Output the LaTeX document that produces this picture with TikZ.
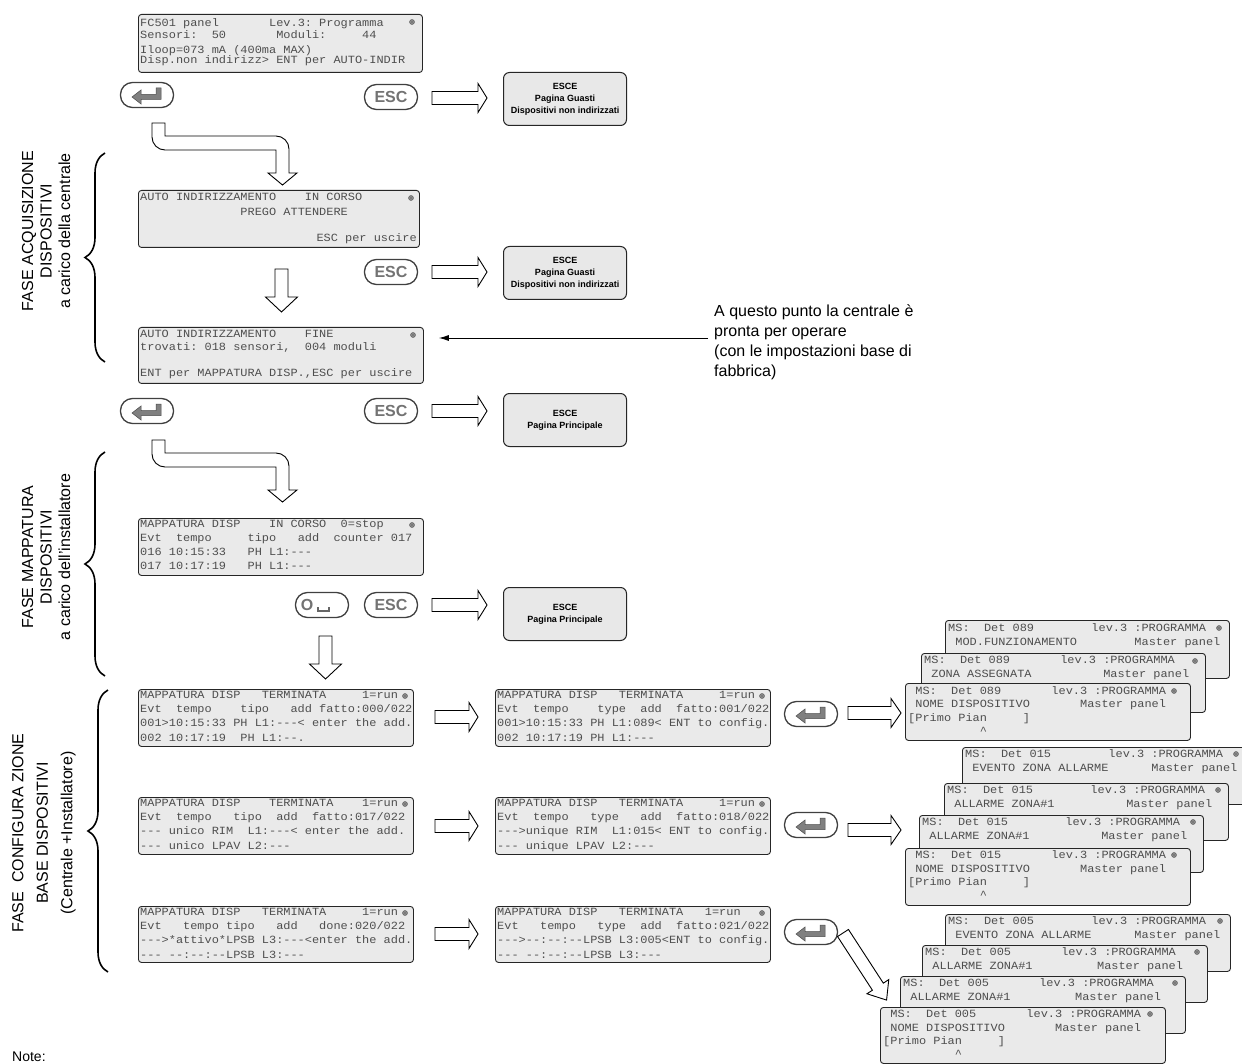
\documentclass[tikz,border=0pt]{standalone}
\usepackage{fontspec}
\setmainfont{Liberation Sans}
\setmonofont{Liberation Mono}[FakeStretch=1.085]
\usetikzlibrary{decorations.pathreplacing,arrows.meta,calc}
\definecolor{scrfill}{HTML}{EAEAEA}
\definecolor{lcdtext}{HTML}{4E4E4E}
\newcommand\lcdf{\ttfamily\fontsize{11}{12}\selectfont}
\newcommand\escef{\bfseries\fontsize{9}{12}\selectfont}
\newcommand\escbtnf{\bfseries\fontsize{16}{16}\selectfont}
\newcommand\scr[5]{\node[scr, minimum width={#4-#2}, minimum height={#5-#3}] (#1) at (#2,#3) {};}
\newcommand\ico[2]{\draw[icon] (#1,#2) circle (2.4) (#1-2.4,#2) -- (#1+2.4,#2) (#1,#2-2.4) -- (#1,#2+2.4);}
\newcommand\barrow[6]{\begin{scope}[shift={(#1,#2)},rotate=#3]
  \draw[barrowst] (0,-6.5) -- ({#4-#5},-6.5) -- ({#4-#5},-#6) -- (#4,0) -- ({#4-#5},#6) -- ({#4-#5},6.5) -- (0,6.5) -- cycle;
  \end{scope}}
\newcommand\curvarrow[1]{\draw[barrowst] (165,#1) -- (152,#1) -- (152,#1+14) .. controls (152,#1+21.2) and (157.8,#1+27) .. (165,#1+27) -- (276,#1+27) -- (276,#1+50) -- (268,#1+50) -- (282.5,#1+62) -- (297,#1+50) -- (289,#1+50) -- (289,#1+26) .. controls (289,#1+18.8) and (283.2,#1+13) .. (276,#1+13) -- (165,#1+13) -- cycle;}
\newcommand\enterglyph[2]{\begin{scope}[shift={(#1,#2)}]
  \filldraw[fill=black!50, draw=black!70, line width=0.5pt] (-15,2) -- (-6,-5) -- (-6,-0.5) -- (9,-0.5) -- (9,-7) -- (14,-7) -- (14,4.5) -- (-6,4.5) -- (-6,9) -- cycle;
  \end{scope}}
\tikzset{
  scr/.style={draw=black!85, fill=scrfill, rounded corners=3pt, line width=0.9pt, inner sep=0pt, anchor=north west},
  lcd/.style={font=\lcdf, text=lcdtext, inner sep=0pt, anchor=base west},
  icon/.style={draw=black!75, line width=0.6pt},
  esce/.style={draw=black!85, fill=black!9, rounded corners=6pt, line width=1pt, minimum width=123pt, minimum height=53pt, align=center, font=\escef, anchor=north west, inner sep=0pt},
  btn/.style={draw=black!75, fill=white, rounded corners=12pt, line width=1.3pt, minimum width=53pt, minimum height=25pt, inner sep=0pt},
  escbtn/.style={btn, font=\escbtnf, text=black!55},
  barrowst/.style={draw=black, fill=white, line width=0.9pt, line join=miter},
  bracest/.style={decorate, decoration={brace, amplitude=20pt}, line width=1.6pt},
  vtext/.style={rotate=90, align=center, inner sep=0pt},
}
\begin{document}
\begin{tikzpicture}[x=1pt,y=-1pt]
\useasboundingbox (0,0) rectangle (1242,1064);
\fill[white] (0,0) rectangle (1242,1064);

% ---------- left braces and phase labels ----------
\draw[bracest] (105,362) -- (105,153);
\draw[bracest] (105,676) -- (105,452);
\draw[bracest] (108,972) -- (108,690);
\node[vtext, font=\fontsize{16}{18.5}\selectfont] (g1) at (46,231) {FASE ACQUISIZIONE\\DISPOSITIVI\\a carico della centrale};
\node[vtext, font=\fontsize{16}{18.5}\selectfont] (g2) at (46,557) {FASE MAPPATURA\\DISPOSITIVI\\a carico dell'installatore};
\node[vtext, font=\fontsize{16}{24.5}\selectfont] (g3) at (44,833) {FASE\ \ CONFIGURA ZIONE\\BASE DISPOSITIVI\\(Centrale +Installatore)};
\node[anchor=base west, inner sep=0pt, font=\fontsize{14}{16}\selectfont] (note) at (12,1061) {Note:};

% ---------- screen A ----------
\scr{sA}{138}{14}{422}{72}
\node[lcd] (a1) at (140,26.5) {FC501~panel~~~~~~~Lev.3:~Programma};
\node[lcd] (a2) at (140,39) {Sensori:~~50~~~~~~~Moduli:~~~~~44};
\node[lcd] (a3) at (140,53.5) {Iloop=073~mA~(400ma~MAX)};
\node[lcd] (a4) at (140,64) {Disp.non~indirizz>~ENT~per~AUTO-INDIR};
\ico{412}{22}
\node[btn] (entA) at (147,95) {}; \enterglyph{147}{95}
\node[escbtn] (escA) at (391,97) {ESC};
\barrow{432}{98}{0}{55}{9}{14.5}
\node[esce] (xA) at (503,72) {ESCE\\Pagina Guasti\\Dispositivi non indirizzati};
\curvarrow{123}

% ---------- screen B ----------
\scr{sB}{138}{190}{419}{247}
\node[lcd] (b1) at (140,201) {AUTO~INDIRIZZAMENTO~~~~IN~CORSO};
\node[lcd] (b2) at (140,215.5) {~~~~~~~~~~~~~~PREGO~ATTENDERE};
\node[lcd, anchor=base east] (b4) at (417,242) {ESC~per~uscire};
\ico{411}{198}
\node[escbtn] (escB) at (391,272) {ESC};
\barrow{432}{272}{0}{55}{9}{14.5}
\node[esce] (xB) at (503,246) {ESCE\\Pagina Guasti\\Dispositivi non indirizzati};
\barrow{281.5}{269}{-90}{43}{15}{16}

% ---------- screen C ----------
\scr{sC}{138}{327}{423}{383}
\node[lcd] (c1) at (140,337.5) {AUTO~INDIRIZZAMENTO~~~~FINE};
\node[lcd] (c2) at (140,350.5) {trovati:~018~sensori,~~004~moduli};
\node[lcd] (c4) at (140,377) {ENT~per~MAPPATURA~DISP.,ESC~per~uscire};
\ico{413}{335}
\node[anchor=north west, align=left, inner sep=0pt, font=\fontsize{16}{20}\selectfont] (ann) at (714,305) {A questo punto la centrale è\\pronta per operare\\(con le impostazioni base di\\fabbrica)};
\draw[-{Latex[length=10pt,width=6pt]}, line width=0.8pt, shorten <=6pt, shorten >=15pt] (ann.west |- 0,338) -- (sC.east |- 0,338);
\node[btn] (entC) at (147,411) {}; \enterglyph{147}{411}
\node[escbtn] (escC) at (391,411) {ESC};
\barrow{432}{411}{0}{55}{9}{14.5}
\node[esce] (xC) at (503,393) {ESCE\\Pagina Principale};
\curvarrow{440}

% ---------- screen D ----------
\scr{sD}{138}{518}{423}{575}
\node[lcd] (d1) at (140,527.5) {MAPPATURA~DISP~~~~IN~CORSO~~0=stop};
\node[lcd] (d2) at (140,541.5) {Evt~~tempo~~~~~tipo~~~add~~counter~017};
\node[lcd] (d3) at (140,555.5) {016~10:15:33~~~PH~L1:---};
\node[lcd] (d4) at (140,569.5) {017~10:17:19~~~PH~L1:---};
\ico{412}{525}
\node[btn] (oD) at (322,605) {};
\node[inner sep=0pt, font=\escbtnf, text=black!55] (oDt) at (307,605) {O};
\draw[black!60, line width=1.3pt] (318,607) -- (318,611) -- (329,611) -- (329,607);
\node[escbtn] (escD) at (391,605) {ESC};
\barrow{432}{605}{0}{55}{9}{14.5}
\node[esce] (xD) at (503,587) {ESCE\\Pagina Principale};
\barrow{325.5}{636}{-90}{43}{15}{16}

% ---------- row 1 ----------
\scr{e1}{138}{689}{413}{746}
\node[lcd] (e11) at (140,698) {MAPPATURA~DISP~~~TERMINATA~~~~~1=run};
\node[lcd] (e12) at (140,712.3) {Evt~~tempo~~~~tipo~~~add~fatto:000/022};
\node[lcd] (e13) at (140,726.6) {001>10:15:33~PH~L1:---<~enter~the~add.};
\node[lcd] (e14) at (140,741) {002~10:17:19~~PH~L1:--.};
\ico{405}{696}
\barrow{435}{717}{0}{43}{9}{14.5}
\scr{f1}{495}{689}{770}{746}
\node[lcd] (f11) at (497,698) {MAPPATURA~DISP~~~TERMINATA~~~~~1=run};
\node[lcd] (f12) at (497,712.3) {Evt~~tempo~~~~type~~add~~fatto:001/022};
\node[lcd] (f13) at (497,726.6) {001>10:15:33~PH~L1:089<~ENT~to~config.};
\node[lcd] (f14) at (497,741) {002~10:17:19~PH~L1:---};
\ico{762}{696}
\node[btn] (entF1) at (811,714) {}; \enterglyph{811}{714}
\barrow{848}{713}{0}{53}{10}{14.5}

% stack 1
\scr{s1a}{945}{620}{1229}{678}
\node[lcd] (s1a1) at (948,631) {MS:~~Det~089~~~~~~~~lev.3~:PROGRAMMA};
\node[lcd] (s1a2) at (948,645) {~MOD.FUNZIONAMENTO~~~~~~~~Master~panel};
\ico{1219}{628}
\scr{s1b}{921}{653}{1205}{712}
\node[lcd] (s1b1) at (924,663.5) {MS:~~Det~089~~~~~~~lev.3~:PROGRAMMA};
\node[lcd] (s1b2) at (924,677.5) {~ZONA~ASSEGNATA~~~~~~~~~~Master~panel};
\ico{1195}{661}
\scr{s1c}{905}{683}{1190}{740}
\node[lcd] (s1c1) at (908,694) {~MS:~~Det~089~~~~~~~lev.3~:PROGRAMMA};
\node[lcd] (s1c2) at (908,707.5) {~NOME~DISPOSITIVO~~~~~~~Master~panel};
\node[lcd] (s1c3) at (908,721) {[Primo~Pian~~~~~]};
\node[lcd] (s1c4) at (908,734) {~~~~~~~~~~\textasciicircum};
\ico{1174}{691}

% ---------- row 2 ----------
\scr{e2}{138}{797}{413}{854}
\node[lcd] (e21) at (140,806) {MAPPATURA~DISP~~~~TERMINATA~~~~1=run};
\node[lcd] (e22) at (140,820.3) {Evt~~tempo~~~tipo~~add~~fatto:017/022};
\node[lcd] (e23) at (140,834.6) {---~unico~RIM~~L1:---<~enter~the~add.};
\node[lcd] (e24) at (140,849) {---~unico~LPAV~L2:---};
\ico{405}{804}
\barrow{435}{826}{0}{43}{9}{14.5}
\scr{f2}{495}{797}{770}{854}
\node[lcd] (f21) at (497,806) {MAPPATURA~DISP~~~TERMINATA~~~~~1=run};
\node[lcd] (f22) at (497,820.3) {Evt~~tempo~~~type~~~add~~fatto:018/022};
\node[lcd] (f23) at (497,834.6) {--->unique~RIM~~L1:015<~ENT~to~config.};
\node[lcd] (f24) at (497,849) {---~unique~LPAV~L2:---};
\ico{762}{804}
\node[btn] (entF2) at (811,825) {}; \enterglyph{811}{825}
\barrow{848}{830}{0}{53}{10}{14.5}

% stack 2
\scr{s2a}{962}{747}{1247}{804}
\node[lcd] (s2a1) at (965,757.5) {MS:~~Det~015~~~~~~~~lev.3~:PROGRAMMA};
\node[lcd] (s2a2) at (965,771.5) {~EVENTO~ZONA~ALLARME~~~~~~Master~panel};
\ico{1236}{754}
\scr{s2b}{944}{783}{1228}{840}
\node[lcd] (s2b1) at (947,793.5) {MS:~~Det~015~~~~~~~~lev.3~:PROGRAMMA};
\node[lcd] (s2b2) at (947,807.5) {~ALLARME~ZONA\#1~~~~~~~~~~Master~panel};
\ico{1218}{790}
\scr{s2c}{919}{815}{1203}{872}
\node[lcd] (s2c1) at (922,825.5) {MS:~~Det~015~~~~~~~~lev.3~:PROGRAMMA};
\node[lcd] (s2c2) at (922,839.5) {~ALLARME~ZONA\#1~~~~~~~~~~Master~panel};
\ico{1193}{822}
\scr{s2d}{905}{848}{1190}{905}
\node[lcd] (s2d1) at (908,858.5) {~MS:~~Det~015~~~~~~~lev.3~:PROGRAMMA};
\node[lcd] (s2d2) at (908,872) {~NOME~DISPOSITIVO~~~~~~~Master~panel};
\node[lcd] (s2d3) at (908,885.5) {[Primo~Pian~~~~~]};
\node[lcd] (s2d4) at (908,898.5) {~~~~~~~~~~\textasciicircum};
\ico{1174}{855}

% ---------- row 3 ----------
\scr{e3}{138}{906}{413}{962}
\node[lcd] (e31) at (140,915) {MAPPATURA~DISP~~~TERMINATA~~~~~1=run};
\node[lcd] (e32) at (140,929.3) {Evt~~~tempo~tipo~~~add~~~done:020/022};
\node[lcd] (e33) at (140,943.6) {--->*attivo*LPSB~L3:---<enter~the~add.};
\node[lcd] (e34) at (140,958) {---~--:--:--LPSB~L3:---};
\ico{405}{913}
\barrow{435}{934}{0}{43}{9}{14.5}
\scr{f3}{495}{906}{770}{962}
\node[lcd] (f31) at (497,915) {MAPPATURA~DISP~~~TERMINATA~~~1=run};
\node[lcd] (f32) at (497,929.3) {Evt~~~tempo~~~type~~add~~fatto:021/022};
\node[lcd] (f33) at (497,943.6) {--->--:--:--LPSB~L3:005<ENT~to~config.};
\node[lcd] (f34) at (497,958) {---~--:--:--LPSB~L3:---};
\ico{762}{913}
\node[btn] (entF3) at (811,932) {}; \enterglyph{811}{932}
\barrow{843}{933}{-57}{80}{16}{13}

% stack 3
\scr{s3a}{945}{914}{1230}{971}
\node[lcd] (s3a1) at (948,924.5) {MS:~~Det~005~~~~~~~~lev.3~:PROGRAMMA};
\node[lcd] (s3a2) at (948,938.5) {~EVENTO~ZONA~ALLARME~~~~~~Master~panel};
\ico{1220}{921}
\scr{s3b}{922}{945}{1207}{1002}
\node[lcd] (s3b1) at (925,955.5) {MS:~~Det~005~~~~~~~lev.3~:PROGRAMMA};
\node[lcd] (s3b2) at (925,969.5) {~ALLARME~ZONA\#1~~~~~~~~~Master~panel};
\ico{1197}{952}
\scr{s3c}{900}{976}{1185}{1033}
\node[lcd] (s3c1) at (903,986.5) {MS:~~Det~005~~~~~~~lev.3~:PROGRAMMA};
\node[lcd] (s3c2) at (903,1000.5) {~ALLARME~ZONA\#1~~~~~~~~~Master~panel};
\ico{1175}{983}
\scr{s3d}{880}{1007}{1165}{1063}
\node[lcd] (s3d1) at (883,1017.5) {~MS:~~Det~005~~~~~~~lev.3~:PROGRAMMA};
\node[lcd] (s3d2) at (883,1031) {~NOME~DISPOSITIVO~~~~~~~Master~panel};
\node[lcd] (s3d3) at (883,1044.5) {[Primo~Pian~~~~~]};
\node[lcd] (s3d4) at (883,1057.5) {~~~~~~~~~~\textasciicircum};
\ico{1150}{1014}
\end{tikzpicture}
\end{document}
